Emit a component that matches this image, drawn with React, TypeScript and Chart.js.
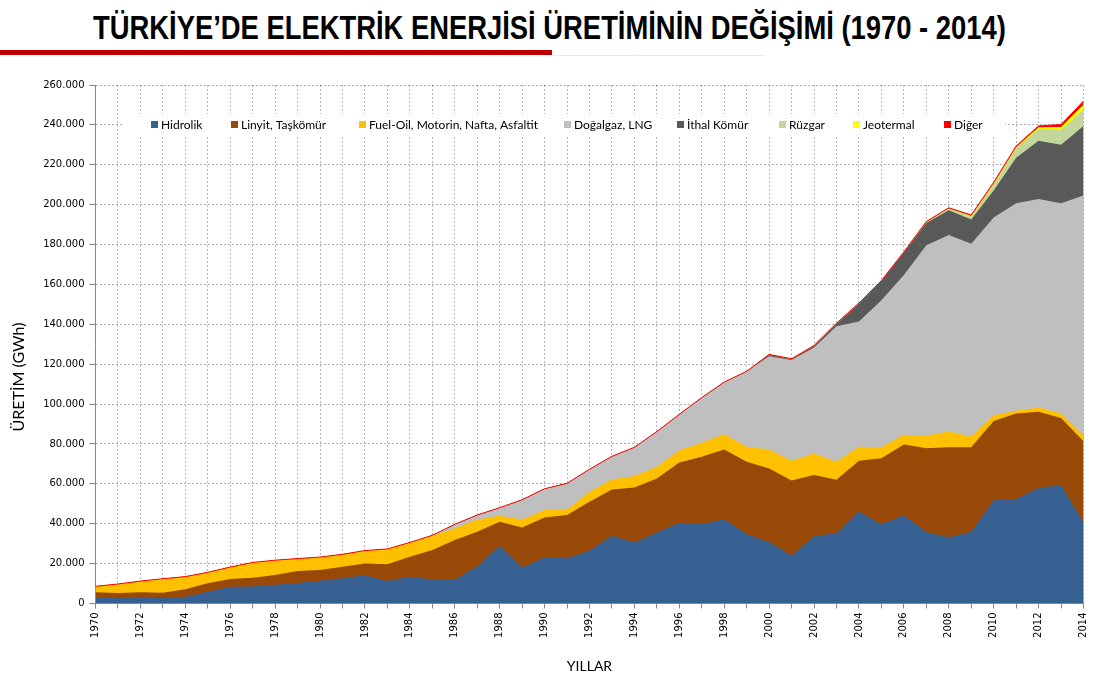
import React, { useEffect, useRef } from "react";
import { Chart, registerables } from "chart.js";

Chart.register(...registerables);

const YEARS = [
  "1970", "1971", "1972", "1973", "1974", "1975", "1976", "1977", "1978", "1979",
  "1980", "1981", "1982", "1983", "1984", "1985", "1986", "1987", "1988", "1989",
  "1990", "1991", "1992", "1993", "1994", "1995", "1996", "1997", "1998", "1999",
  "2000", "2001", "2002", "2003", "2004", "2005", "2006", "2007", "2008", "2009",
  "2010", "2011", "2012", "2013", "2014",
];

const HIDROLIK = [
  3033, 2610, 2995, 2603, 3358, 5904, 8373, 8566, 9343, 10289,
  11348, 12616, 14167, 11343, 13426, 12045, 11873, 18618, 28950, 17940,
  23148, 22683, 26568, 33951, 30586, 35541, 40475, 39816, 42229, 34678,
  30879, 24010, 33684, 35330, 46084, 39561, 44244, 35851, 33270, 35958,
  51796, 52339, 57865, 59420, 40645,
];

const LINYIT = [
  2570, 2650, 2600, 2830, 3740, 4200, 3920, 4370, 4940, 5990,
  5450, 5830, 5950, 8280, 10030, 14750, 19930, 17380, 12050, 20220,
  20020, 21660, 24450, 23250, 27610, 27160, 30250, 33740, 35010, 36370,
  36840, 37690, 30730, 26710, 25450, 33330, 35430, 41950, 45040, 42350,
  39730, 42920, 38245, 33640, 40715,
];

const FUELOIL = [
  3020, 4521, 5647, 6992, 6379, 5519, 5990, 7629, 7443, 6243,
  6477, 6227, 6435, 7724, 7158, 7366, 5850, 6170, 3000, 4010,
  3670, 2840, 5010, 5000, 5680, 5850, 6180, 7010, 7680, 7520,
  9520, 9830, 10850, 8980, 7120, 5420, 4910, 6440, 7970, 5420,
  2880, 1360, 2200, 2200, 2880,
];

const DOGALGAZ = [
  0, 0, 0, 0, 0, 0, 0, 0, 0, 0,
  0, 0, 0, 0, 0, 58, 2042, 2185, 4049, 9873,
  10705, 13063, 11314, 11607, 14446, 17696, 17957, 22730, 26103, 37872,
  46760, 50510, 53050, 67970, 62710, 73730, 80170, 95430, 98480, 96620,
  99160, 104070, 104580, 105430, 120350,
];

const ITHAL_KOMUR = [
  0, 0, 0, 0, 0, 0, 0, 0, 0, 0,
  0, 0, 0, 0, 0, 0, 0, 0, 0, 0,
  0, 0, 0, 0, 0, 0, 0, 0, 0, 0,
  600, 400, 850, 1190, 8990, 9660, 11200, 11180, 12430, 12190,
  13590, 22820, 29130, 29370, 34790,
];

const RUZGAR = [
  0, 0, 0, 0, 0, 0, 0, 0, 0, 0,
  0, 0, 0, 0, 0, 0, 0, 0, 0, 0,
  0, 0, 0, 0, 0, 0, 0, 0, 0, 0,
  33, 62, 48, 61, 58, 59, 127, 355, 847, 1495,
  2916, 4724, 5861, 7558, 8520,
];

const JEOTERMAL = [
  0, 0, 0, 0, 0, 0, 0, 0, 0, 0,
  0, 0, 0, 0, 0, 0, 0, 0, 0, 0,
  0, 0, 0, 0, 0, 0, 0, 0, 0, 0,
  76, 90, 105, 89, 93, 94, 94, 156, 162, 436,
  668, 694, 899, 1364, 2364,
];

const DIGER = [
  0, 0, 0, 0, 0, 0, 0, 0, 0, 0,
  0, 0, 0, 0, 0, 0, 0, 0, 0, 0,
  0, 0, 0, 0, 0, 0, 0, 0, 0, 0,
  214, 133, 83, 251, 193, 102, 125, 196, 219, 344,
  468, 468, 717, 1172, 1699,
];

const SERIES_NAMES = [
  "Hidrolik",
  "Linyit, Taşkömür",
  "Fuel-Oil, Motorin, Nafta, Asfaltit",
  "Doğalgaz, LNG",
  "İthal Kömür",
  "Rüzgar",
  "Jeotermal",
  "Diğer",
];

const SERIES_COLORS = [
  "#376092",
  "#984807",
  "#FFC000",
  "#BFBFBF",
  "#595959",
  "#C3D69B",
  "#FFFF00",
  "#FF0000",
];

const TITLE = "TÜRKİYE’DE ELEKTRİK ENERJİSİ ÜRETİMİNİN DEĞİŞİMİ (1970 - 2014)";
const Y_TITLE = "ÜRETİM (GWh)";
const X_TITLE = "YILLAR";

const fmt = (v: number) =>
  String(Math.round(v)).replace(/\B(?=(\d{3})+(?!\d))/g, ".");

const overlayPlugin = {
  id: "overlayText",
  afterDraw(chart: any) {
    const ctx = chart.ctx as CanvasRenderingContext2D;
    const area = chart.chartArea;
    ctx.save();
    // legend box
    ctx.fillStyle = "#ffffff";
    ctx.fillRect(122, 114, 883, 23);
    const legendX = [151, 231, 359, 564, 677, 779, 853, 944];
    ctx.font = "12px Lato";
    ctx.textBaseline = "middle";
    ctx.textAlign = "left";
    SERIES_NAMES.forEach((name, i) => {
      ctx.fillStyle = SERIES_COLORS[i];
      ctx.fillRect(legendX[i], 121, 7, 7);
      ctx.fillStyle = "#000000";
      ctx.fillText(name, legendX[i] + 10, 125);
    });
    // y title
    ctx.save();
    ctx.translate(18.5, 377);
    ctx.rotate(-Math.PI / 2);
    ctx.font = "16px Lato";
    ctx.textAlign = "center";
    ctx.textBaseline = "middle";
    ctx.fillStyle = "#000000";
    ctx.fillText(Y_TITLE, 0, 0);
    ctx.restore();
    // x title
    ctx.font = "14px Lato";
    ctx.textAlign = "center";
    ctx.textBaseline = "middle";
    ctx.fillStyle = "#000000";
    ctx.fillText(X_TITLE, (area.left + area.right) / 2, 666);
    ctx.restore();
  },
};

export default function App() {
  const canvasRef = useRef<HTMLCanvasElement | null>(null);

  useEffect(() => {
    if (!canvasRef.current) return;
    const seriesData = [
      HIDROLIK,
      LINYIT,
      FUELOIL,
      DOGALGAZ,
      ITHAL_KOMUR,
      RUZGAR,
      JEOTERMAL,
      DIGER,
    ];
    const datasets = seriesData.map((d, i) => ({
      label: SERIES_NAMES[i],
      data: d,
      backgroundColor: SERIES_COLORS[i],
      borderColor: i === 7 ? "#FF0000" : SERIES_COLORS[i],
      borderWidth: i === 7 ? 1 : 0,
      fill: "origin",
      pointRadius: 0,
      tension: 0,
    }));

    const chart = new Chart(canvasRef.current, {
      type: "line",
      data: { labels: YEARS, datasets },
      plugins: [overlayPlugin],
      options: {
        animation: false,
        responsive: false,
        maintainAspectRatio: false,
        layout: { padding: { left: 0, top: 85, right: 11.5, bottom: 0 } },
        plugins: {
          legend: { display: false },
          tooltip: { enabled: false },
          title: { display: false },
          filler: { drawTime: "beforeDatasetsDraw" },
        },
        scales: {
          x: {
            type: "category",
            offset: false,
            afterFit: (s: any) => {
              s.height = 85.5;
              s.paddingLeft = 0;
              s.paddingRight = 0;
            },
            grid: {
              offset: false,
              color: "rgba(0,0,0,0.28)",
              tickColor: "#868686",
              tickLength: 5,
              drawOnChartArea: true,
            },
            border: { display: true, color: "#868686", dash: [2, 2] },
            ticks: {
              autoSkip: false,
              maxRotation: 90,
              minRotation: 90,
              padding: 4,
              color: "#000000",
              font: { family: "DejaVu Sans", size: 10 },
              callback: (_v: any, idx: number) => (idx % 2 === 0 ? YEARS[idx] : ""),
            },
          },
          y: {
            stacked: true,
            min: 0,
            max: 260000,
            afterFit: (s: any) => {
              s.width = 95.5;
              s.paddingTop = 0;
              s.paddingBottom = 0;
            },
            grid: {
              color: "rgba(0,0,0,0.32)",
              tickColor: "#868686",
              tickLength: 6,
            },
            border: { display: true, color: "#868686", dash: [2, 2] },
            ticks: {
              stepSize: 20000,
              padding: 5,
              color: "#000000",
              font: { family: "DejaVu Sans", size: 10 },
              callback: (v: any) => fmt(Number(v)),
            },
          },
        },
      },
    } as any);
    return () => chart.destroy();
  }, []);

  return (
    <div
      style={{
        position: "absolute",
        left: 0,
        top: 0,
        width: 1095,
        height: 689,
        overflow: "hidden",
        background: "#ffffff",
      }}
    >
      <div
        style={{
          position: "absolute",
          left: 93,
          top: 10.6,
          fontFamily: '"Liberation Sans", Arial, sans-serif',
          fontWeight: 700,
          fontSize: 33.4,
          lineHeight: 1,
          whiteSpace: "nowrap",
          color: "#000000",
          transform: "scaleX(0.82)",
          transformOrigin: "left top",
        }}
      >
        {TITLE}
      </div>
      <div
        style={{
          position: "absolute",
          left: 0,
          top: 50,
          width: 552,
          height: 5,
          background: "#C00000",
        }}
      />
      <div
        style={{
          position: "absolute",
          left: 552,
          top: 55,
          width: 213,
          height: 1,
          background: "#E8ECF2",
        }}
      />
      <canvas
        ref={canvasRef}
        width={1095}
        height={689}
        style={{ position: "absolute", left: 0, top: 0, width: 1095, height: 689 }}
      />
    </div>
  );
}
